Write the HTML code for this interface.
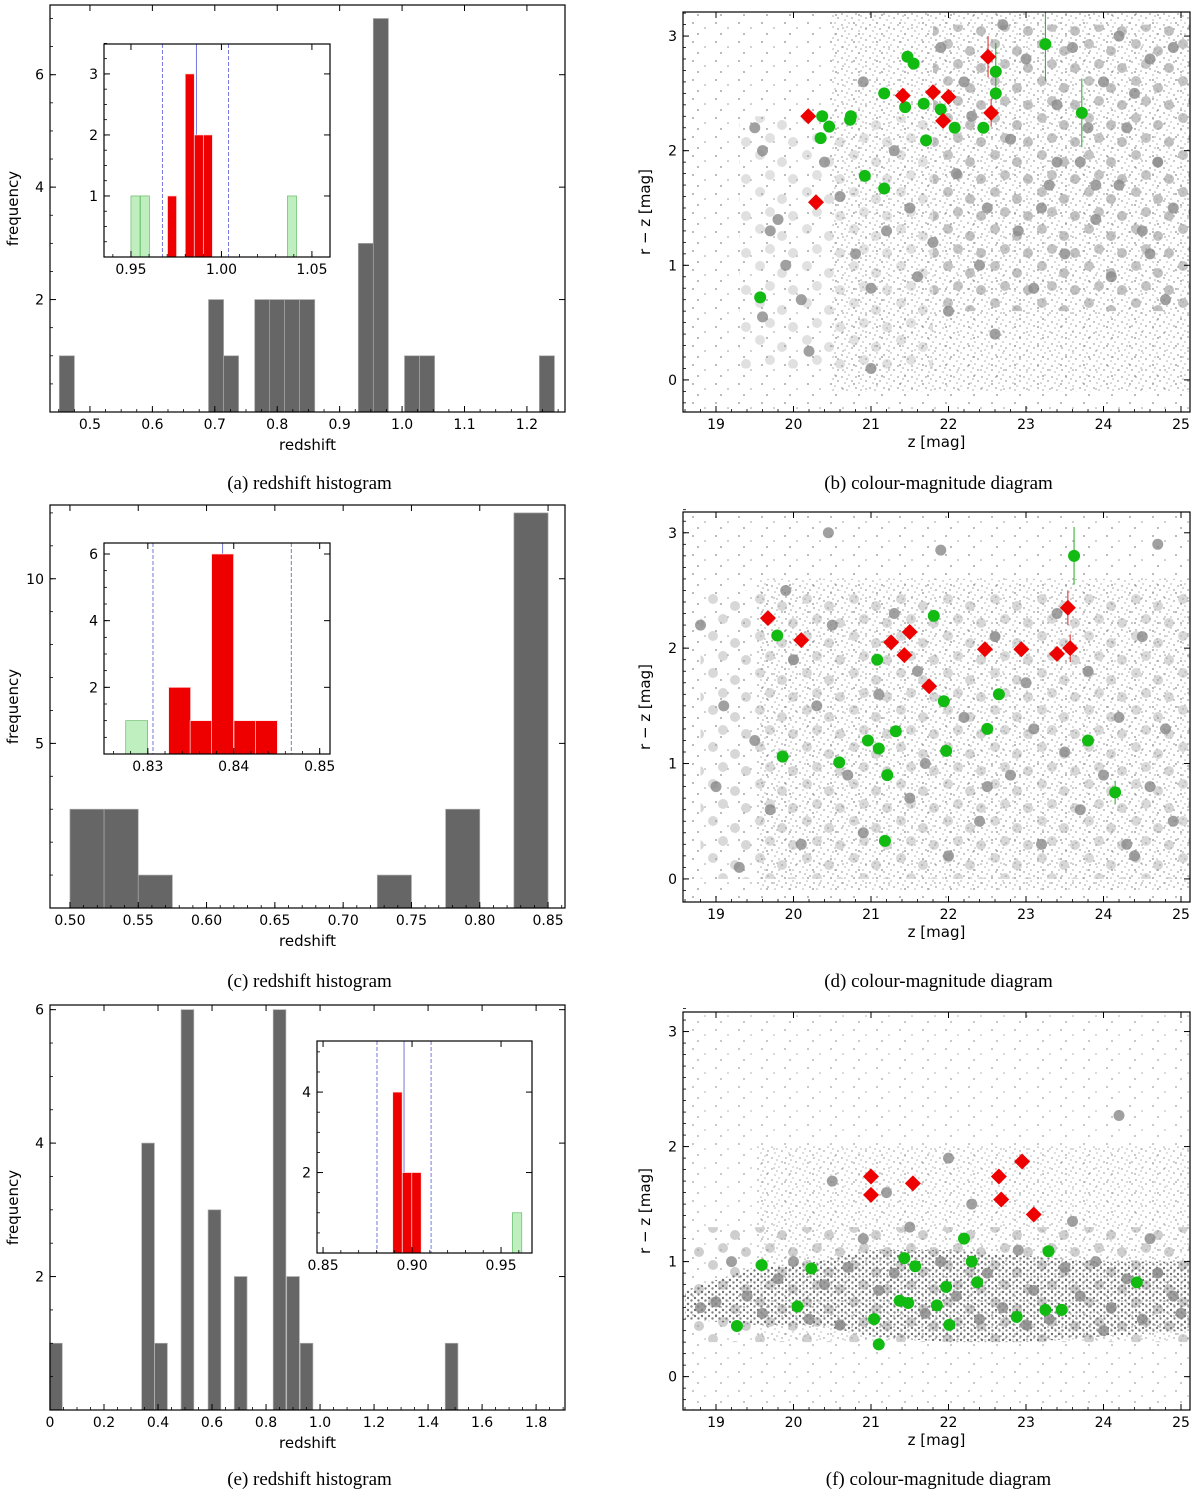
<!DOCTYPE html>
<html><head><meta charset="utf-8">
<style>
html,body{margin:0;padding:0;background:#fff;}
svg{display:block;font-family:"DejaVu Sans","Liberation Sans",sans-serif;}
.cap{font-family:"Liberation Serif",serif;font-size:19px;}
</style></head>
<body>
<svg id="fig" width="1200" height="1489" viewBox="0 0 1200 1489" xmlns="http://www.w3.org/2000/svg">
<defs>
<pattern id="dots" width="14" height="11" patternUnits="userSpaceOnUse">
<circle cx="2" cy="3" r="0.9" fill="#8a8a8a"/><circle cx="9" cy="1" r="0.8" fill="#999"/>
<circle cx="12" cy="7" r="0.9" fill="#8a8a8a"/><circle cx="5" cy="9" r="0.8" fill="#999"/>
<circle cx="7" cy="5" r="0.8" fill="#8a8a8a"/>
</pattern>
<pattern id="sparse" width="23" height="19" patternUnits="userSpaceOnUse">
<circle cx="3" cy="4" r="0.9" fill="#8a8a8a"/><circle cx="15" cy="9" r="0.8" fill="#999"/>
<circle cx="8" cy="15" r="0.9" fill="#8a8a8a"/>
</pattern>
<pattern id="blobs" width="47" height="37" patternUnits="userSpaceOnUse">
<circle cx="8" cy="7" r="5" fill="#aaa"/><circle cx="30" cy="14" r="5" fill="#a5a5a5"/>
<circle cx="18" cy="27" r="5" fill="#aaa"/><circle cx="41" cy="31" r="5" fill="#a5a5a5"/>
</pattern>
<pattern id="dense" width="7" height="6" patternUnits="userSpaceOnUse">
<circle cx="2" cy="2" r="1.2" fill="#6a6a6a"/><circle cx="5.5" cy="4.5" r="1.2" fill="#7a7a7a"/>
</pattern>
</defs>
</svg>
<script>
// ---------- data: histogram (a) ----------
const histA_centers=[0.463,0.702,0.726,0.776,0.800,0.824,0.848,0.942,0.966,1.016,1.040,1.232];
const histA_counts=[1,2,1,2,2,2,2,3,7,1,1,1];
const insetA_red_centers=[0.9727,0.9825,0.9875,0.9925];
const insetA_red_counts=[1,3,2,2];
const insetA_green_centers=[0.9525,0.9577,1.039];
const insetA_green_counts=[1,1,1];
const insetA_lines=[0.9674,0.9862,1.0039];
// ---------- data: histogram (c) ----------
const histC_centers=[0.5125,0.5375,0.5625,0.7375,0.7875,0.8375];
const histC_counts=[3,3,1,1,3,12];
const insetC_red_centers=[0.8337,0.8362,0.8387,0.8413,0.8438];
const insetC_red_counts=[2,1,6,1,1];
const insetC_green_centers=[0.8287];
const insetC_green_counts=[1];
const insetC_lines=[0.8306,0.8387,0.8467];
// ---------- data: histogram (e) ----------
const histE_centers=[0.022,0.363,0.411,0.509,0.609,0.706,0.85,0.9,0.95,1.487];
const histE_counts=[1,4,1,6,3,2,6,2,1,1];
const insetE_red_centers=[0.8918,0.8972,0.9025];
const insetE_red_counts=[4,2,2];
const insetE_green_centers=[0.959];
const insetE_green_counts=[1];
const insetE_lines=[0.8803,0.8955,0.9107];
// ---------- data: CMD (b) ----------
const cmdB_red_z=[20.19,20.29,21.41,21.8,21.93,22.0,22.51,22.55];
const cmdB_red_rz=[2.30,1.55,2.48,2.51,2.26,2.47,2.82,2.33];
const cmdB_red_err=[0,0,0,0,0,0,0.18,0.12];
const cmdB_green_z=[19.57,20.37,20.35,20.46,20.73,20.74,20.92,21.17,21.17,21.44,21.47,21.55,21.68,21.71,21.9,22.08,22.45,22.61,22.61,23.25,23.72];
const cmdB_green_rz=[0.72,2.30,2.11,2.21,2.27,2.30,1.78,2.50,1.67,2.38,2.82,2.76,2.41,2.09,2.36,2.20,2.20,2.69,2.50,2.93,2.33];
const cmdB_green_err=[0,0,0,0,0,0,0,0,0,0,0,0,0,0,0,0,0,0.25,0,0.32,0.3];
const cmdB_gray_z=[19.5,19.6,19.8,19.7,19.6,19.9,20.1,20.2,20.4,20.6,20.8,21.0,21.0,21.2,21.3,21.5,21.6,21.8,22.0,22.1,22.2,22.4,22.5,22.6,22.8,22.9,23.0,23.1,23.3,23.4,23.5,23.6,23.7,23.9,24.0,24.1,24.2,24.3,24.5,24.6,24.7,24.8,24.9,24.4,23.8,22.7,21.9,20.9,24.2,23.2,24.9,24.6,23.9,23.4,22.3];
const cmdB_gray_rz=[2.2,2.0,1.4,1.3,0.55,1.0,0.7,0.25,1.9,1.6,1.1,0.8,0.1,1.3,2.0,1.5,0.9,1.2,0.6,1.8,2.6,1.0,1.5,0.4,2.1,1.3,2.8,0.8,1.7,2.4,1.1,2.9,1.9,1.4,2.6,0.9,1.7,2.2,1.3,2.8,1.9,0.7,1.5,2.5,2.2,3.1,2.9,2.6,3.0,1.5,2.9,1.1,1.7,1.9,2.3];
// ---------- data: CMD (d) ----------
const cmdD_red_z=[19.67,20.1,21.26,21.43,21.5,21.75,22.47,22.94,23.4,23.54,23.57];
const cmdD_red_rz=[2.26,2.07,2.05,1.94,2.14,1.67,1.99,1.99,1.95,2.35,2.0];
const cmdD_red_err=[0,0,0,0,0,0,0,0,0,0.15,0.12];
const cmdD_green_z=[19.79,19.86,20.59,20.96,21.08,21.1,21.21,21.18,21.32,21.81,21.94,21.97,22.5,22.65,23.62,23.8,24.15];
const cmdD_green_rz=[2.11,1.06,1.01,1.2,1.9,1.13,0.9,0.33,1.28,2.28,1.54,1.11,1.30,1.6,2.8,1.2,0.75];
const cmdD_green_err=[0,0,0,0,0,0,0,0,0,0,0,0,0,0,0.25,0,0.1];
const cmdD_gray_z=[18.8,19.1,19.3,19.5,19.7,19.9,20.1,20.3,20.5,20.7,20.9,21.1,21.3,21.5,21.7,21.9,22.0,22.2,22.4,22.6,22.8,23.0,23.2,23.4,23.5,23.7,23.8,24.0,24.2,24.3,24.5,24.6,24.8,24.9,24.7,20.45,22.5,23.1,21.6,24.4,19.0,20.0];
const cmdD_gray_rz=[2.2,1.5,0.1,1.2,0.6,2.5,0.3,1.5,2.2,0.9,0.4,1.6,2.3,0.7,1.0,2.85,0.2,1.4,0.5,2.1,0.9,1.7,0.3,2.3,1.1,0.6,1.8,0.9,1.4,0.3,2.1,0.8,1.3,0.5,2.9,3.0,0.8,1.3,1.8,0.2,0.8,1.9];
// ---------- data: CMD (f) ----------
const cmdF_red_z=[21.0,21.0,21.54,22.65,22.68,22.95,23.1];
const cmdF_red_rz=[1.74,1.58,1.68,1.74,1.54,1.87,1.41];
const cmdF_green_z=[19.27,19.59,20.05,20.23,21.04,21.1,21.37,21.43,21.48,21.57,21.85,21.97,22.01,22.2,22.3,22.37,22.88,23.25,23.29,23.46,24.43];
const cmdF_green_rz=[0.44,0.97,0.61,0.94,0.50,0.28,0.66,1.03,0.64,0.96,0.62,0.78,0.45,1.20,1.0,0.82,0.52,0.58,1.09,0.58,0.82];
const cmdF_gray_z=[18.8,19.0,19.2,19.4,19.6,19.8,20.0,20.2,20.4,20.5,20.7,20.9,21.1,21.3,21.5,21.7,21.9,22.1,22.3,22.5,22.7,22.9,23.1,23.3,23.5,23.7,23.9,24.1,24.3,24.5,24.7,24.9,24.2,23.6,22.0,21.2,24.0,23.0,22.4,24.6,25.0,20.6];
const cmdF_gray_rz=[0.6,0.65,1.0,0.7,0.55,0.85,1.0,0.5,0.8,1.7,0.95,1.2,0.75,0.9,1.3,0.55,1.0,0.7,1.5,0.9,0.6,1.1,0.75,0.5,0.95,0.7,1.0,0.6,0.85,0.5,0.9,0.7,2.27,1.35,1.9,1.6,0.4,0.45,0.5,1.2,0.55,0.45];
const cmdF_band_z=[18.6,19.5,20.3,21.0,22.0,23.0,24.0,25.1];
const cmdF_band_lo=[0.5,0.45,0.45,0.35,0.3,0.3,0.35,0.4];
const cmdF_band_hi=[0.75,0.95,1.0,1.1,1.1,1.05,1.0,1.0];

const NS="http://www.w3.org/2000/svg";
const svg=document.getElementById('fig');
function el(tag,attrs,parent,text){const e=document.createElementNS(NS,tag);for(const k in attrs)e.setAttribute(k,attrs[k]);if(text!==undefined)e.textContent=text;(parent||svg).appendChild(e);return e;}
function lin(d0,d1,r0,r1){return v=>r0+(v-d0)*(r1-r0)/(d1-d0);}

function frame(g,x0,y0,x1,y1){
  const r=el('rect',{x:x0,y:y0,width:x1-x0,height:y1-y0,fill:'none',stroke:'#000','stroke-width':1.2},g);
  
  
}
function xticks(g,sx,vals,labels,y0,y1,fs,minorVals){
  vals.forEach((v,i)=>{
    const x=sx(v);
    el('line',{x1:x,x2:x,y1:y1,y2:y1-6,stroke:'#000','stroke-width':1},g);
    el('line',{x1:x,x2:x,y1:y0,y2:y0+6,stroke:'#000','stroke-width':1},g);
    const t=el('text',{x:x,y:y1+fs+3,'text-anchor':'middle','font-size':fs},g,labels[i]);
    
    
  });
  (minorVals||[]).forEach(v=>{const x=sx(v);el('line',{x1:x,x2:x,y1:y1,y2:y1-3,stroke:'#000','stroke-width':0.8},g);});
}
function yticks(g,sy,vals,labels,x0,x1,fs,minorVals){
  vals.forEach((v,i)=>{
    const y=sy(v);
    el('line',{x1:x0,x2:x0+6,y1:y,y2:y,stroke:'#000','stroke-width':1},g);
    el('line',{x1:x1,x2:x1-6,y1:y,y2:y,stroke:'#000','stroke-width':1},g);
    const t=el('text',{x:x0-6,y:y+fs*0.36,'text-anchor':'end','font-size':fs},g,labels[i]);
    
    
  });
  (minorVals||[]).forEach(v=>{const y=sy(v);el('line',{x1:x0,x2:x0+3,y1:y,y2:y,stroke:'#000','stroke-width':0.8},g);});
}
function range(a,b,s){const o=[];for(let v=a;v<=b+1e-9;v+=s)o.push(+v.toFixed(6));return o;}
function bars(g,sx,sy,centers,counts,w,fill,stroke,name){
  centers.forEach((c,i)=>{
    const xa=sx(c-w/2),xb=sx(c+w/2),yt=sy(counts[i]),yb=sy(0);
    const r=el('rect',{x:xa,y:yt,width:xb-xa,height:yb-yt,fill:fill,stroke:stroke,'stroke-width':0.7},g);
    
    
  });
}
function vlines(g,sx,vals,y0,y1){
  vals.forEach((v,i)=>{
    const l=el('line',{x1:sx(v),x2:sx(v),y1:y0,y2:y1,stroke:'#7777dd','stroke-width':1,'stroke-dasharray':i===1?'none':'4,2'},g);
    
    
  });
}
function caption(x,y,t){
  const c=el('text',{x:x,y:y,'text-anchor':'middle',class:'cap'},svg,t);
  
  
}
function axisLabels(g,xlab,xx,xy,ylab,yx,yy){
  const a=el('text',{x:xx,y:xy,'text-anchor':'middle','font-size':15},g,xlab);
  
  
  const b=el('text',{x:yx,y:yy,'text-anchor':'middle','font-size':15,transform:`rotate(-90 ${yx} ${yy})`},g,ylab);
  
  
}

function histPanel(name,F,xd,yd,centers,counts,w,xt,xl,xmin,yt,yl,ymin,inset,capY,capT){
  const g=el('g',{});
  
  
  const sx=lin(xd[0],xd[1],F[0],F[2]),sy=lin(yd[0],yd[1],F[3],F[1]);
  bars(g,sx,sy,centers,counts,w,'#666','#aaa','histogram-bar');
  frame(g,F[0],F[1],F[2],F[3]);
  xticks(g,sx,xt,xl,F[1],F[3],14,xmin);
  yticks(g,sy,yt,yl,F[0],F[2],14,ymin);
  axisLabels(g,'redshift',(F[0]+F[2])/2,F[3]+38,'frequency',18,(F[1]+F[3])/2);
  const I=inset.F;
  const gi=el('g',{},g);
  
  
  el('rect',{x:I[0],y:I[1],width:I[2]-I[0],height:I[3]-I[1],fill:'#fff'},gi);
  const ix=lin(inset.xd[0],inset.xd[1],I[0],I[2]),iy=lin(inset.yd[0],inset.yd[1],I[3],I[1]);
  vlines(gi,ix,inset.lines,I[1],I[3]);
  bars(gi,ix,iy,inset.gc,inset.gn,inset.w,'#bfeebf','#66bb66','inset-bar-green');
  bars(gi,ix,iy,inset.rc,inset.rn,inset.w,'#ee0000','#ffdddd','inset-bar-red');
  frame(gi,I[0],I[1],I[2],I[3]);
  xticks(gi,ix,inset.xt,inset.xl,I[1],I[3],14,inset.xmin);
  yticks(gi,iy,inset.yt,inset.yl,I[0],I[2],14,inset.ymin);
  caption((F[0]+F[2])/2+2,capY,capT);
}

histPanel('histogram-a',[50,5,565,412],[0.436,1.261],[0,7.24],histA_centers,histA_counts,0.0242,
  range(0.5,1.2,0.1),['0.5','0.6','0.7','0.8','0.9','1.0','1.1','1.2'],range(0.45,1.25,0.025),
  [2,4,6],['2','4','6'],range(0.5,7,0.5),
  {F:[104,44,330,257],xd:[0.9351,1.06],yd:[0,3.49],lines:insetA_lines,gc:insetA_green_centers,gn:insetA_green_counts,rc:insetA_red_centers,rn:insetA_red_counts,w:0.005,
   xt:[0.95,1.0,1.05],xl:['0.95','1.00','1.05'],xmin:range(0.94,1.06,0.01),yt:[1,2,3],yl:['1','2','3'],ymin:range(0,3.5,0.25)},
  489,'(a) redshift histogram');

histPanel('histogram-c',[50,505,565,908],[0.4854,0.8624],[0,12.24],histC_centers,histC_counts,0.025,
  range(0.5,0.85,0.05),['0.50','0.55','0.60','0.65','0.70','0.75','0.80','0.85'],range(0.5,0.86,0.01),
  [5,10],['5','10'],range(1,12,1),
  {F:[104,543,330,754],xd:[0.8249,0.8512],yd:[0,6.33],lines:insetC_lines,gc:insetC_green_centers,gn:insetC_green_counts,rc:insetC_red_centers,rn:insetC_red_counts,w:0.00255,
   xt:[0.83,0.84,0.85],xl:['0.83','0.84','0.85'],xmin:range(0.826,0.85,0.002),yt:[2,4,6],yl:['2','4','6'],ymin:range(0,6,0.5)},
  987,'(c) redshift histogram');

histPanel('histogram-e',[50,1005,565,1410],[0,1.907],[0,6.07],histE_centers,histE_counts,0.047,
  range(0,1.8,0.2),['0','0.2','0.4','0.6','0.8','1.0','1.2','1.4','1.6','1.8'],range(0,1.9,0.05),
  [2,4,6],['2','4','6'],range(0,6,0.5),
  {F:[317,1041,532,1253],xd:[0.8466,0.9674],yd:[0,5.27],lines:insetE_lines,gc:insetE_green_centers,gn:insetE_green_counts,rc:insetE_red_centers,rn:insetE_red_counts,w:0.0053,
   xt:[0.85,0.9,0.95],xl:['0.85','0.90','0.95'],xmin:range(0.85,0.96,0.01),yt:[2,4],yl:['2','4'],ymin:range(0,5,0.5)},
  1485,'(e) redshift histogram');

// textures: [zmin,zmax,rzmin,rzmax,patternId,opacity]
function cmdPanel(name,F,yd,textures,gz,grz,gnz,gnrz,gnerr,rz_,rrz,rerr,band,capY,capT){
  const g=el('g',{});
  
  
  const sx=lin(18.574,25.116,F[0],F[2]),sy=lin(yd[0],yd[1],F[3],F[1]);
  const cid='clip'+name;
  const cp=el('clipPath',{id:cid},g);el('rect',{x:F[0],y:F[1],width:F[2]-F[0],height:F[3]-F[1]},cp);
  const gc=el('g',{'clip-path':`url(#${cid})`},g);
  textures.forEach(t=>{
    const r=el('rect',{x:sx(t[0]),y:sy(t[3]),width:sx(t[1])-sx(t[0]),height:sy(t[2])-sy(t[3]),fill:`url(#${t[4]})`,opacity:t[5]},gc);
    
    
  });
  if(band){
    let d='';
    band.z.forEach((z,i)=>{d+=(i?'L':'M')+sx(z)+','+sy(band.hi[i]);});
    for(let i=band.z.length-1;i>=0;i--)d+='L'+sx(band.z[i])+','+sy(band.lo[i]);
    const p=el('path',{d:d+'Z',fill:'url(#dense)',opacity:0.95},gc);
    
    
  }
  gz.forEach((z,i)=>{
    const c=el('circle',{cx:sx(z),cy:sy(grz[i]),r:5.5,fill:'#888',opacity:0.8},gc);
    
    
  });
  gnz.forEach((z,i)=>{
    const x=sx(z),y=sy(gnrz[i]);
    if(gnerr&&gnerr[i]){el('line',{x1:x,x2:x,y1:sy(gnrz[i]-gnerr[i]),y2:sy(gnrz[i]+gnerr[i]),stroke:'#22aa22','stroke-width':1},gc);}
    const c=el('circle',{cx:x,cy:y,r:6,fill:'#11bb11'},gc);
    
    
  });
  rz_.forEach((z,i)=>{
    const x=sx(z),y=sy(rrz[i]);
    if(rerr&&rerr[i]){el('line',{x1:x,x2:x,y1:sy(rrz[i]-rerr[i]),y2:sy(rrz[i]+rerr[i]),stroke:'#dd2222','stroke-width':1},gc);}
    const p=el('polygon',{points:`${x},${y-8} ${x+8},${y} ${x},${y+8} ${x-8},${y}`,fill:'#ee0000'},gc);
    
    
  });
  frame(g,F[0],F[1],F[2],F[3]);
  xticks(g,sx,[19,20,21,22,23,24,25],['19','20','21','22','23','24','25'],F[1],F[3],14,range(18.6,25,0.2));
  yticks(g,sy,[0,1,2,3],['0','1','2','3'],F[0],F[2],14,range(-0.2,3.2,0.1));
  axisLabels(g,'z [mag]',(F[0]+F[2])/2,F[3]+35,'r − z [mag]',650,(F[1]+F[3])/2);
  caption((F[0]+F[2])/2+2,capY,capT);
}
cmdPanel('cmd-b',[683,12,1190,412],[-0.28,3.21],
  [[18.5,25.2,-0.3,3.3,'sparse',1],[20.5,25.2,-0.1,3.3,'dots',0.8],[21.8,25.2,0.6,3.1,'blobs',0.7],[19.3,21.8,0.1,2.3,'blobs',0.35]],
  cmdB_gray_z,cmdB_gray_rz,cmdB_green_z,cmdB_green_rz,cmdB_green_err,cmdB_red_z,cmdB_red_rz,cmdB_red_err,null,489,'(b) colour-magnitude diagram');
cmdPanel('cmd-d',[683,512,1190,902],[-0.2,3.18],
  [[18.5,25.2,-0.3,3.3,'sparse',1],[19.5,25.2,-0.1,2.6,'dots',0.8],[18.8,25.2,0.0,2.5,'blobs',0.45]],
  cmdD_gray_z,cmdD_gray_rz,cmdD_green_z,cmdD_green_rz,cmdD_green_err,cmdD_red_z,cmdD_red_rz,cmdD_red_err,null,987,'(d) colour-magnitude diagram');
cmdPanel('cmd-f',[683,1012,1190,1410],[-0.29,3.17],
  [[18.5,25.2,-0.3,3.3,'sparse',0.8],[19.5,25.2,0.3,2.0,'dots',0.7],[18.7,25.2,0.3,1.3,'blobs',0.55]],
  cmdF_gray_z,cmdF_gray_rz,cmdF_green_z,cmdF_green_rz,null,cmdF_red_z,cmdF_red_rz,null,{z:cmdF_band_z,lo:cmdF_band_lo,hi:cmdF_band_hi},1485,'(f) colour-magnitude diagram');
</script>
</body></html>
